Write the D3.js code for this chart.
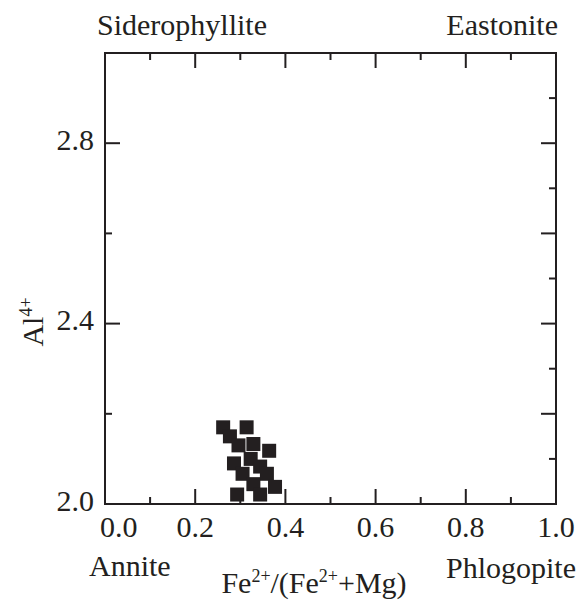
<!DOCTYPE html>
<html>
<head>
<meta charset="utf-8">
<script src="https://cdn.jsdelivr.net/npm/d3@7"></script>
<style>
  html, body { margin: 0; padding: 0; background: #fff; }
  svg { display: block; }
  text { font-family: "Liberation Serif", "Times New Roman", Times, serif; fill: #231f20; }
</style>
</head>
<body>
<svg id="chart" width="577" height="601"></svg>
<script>
// Biotite analyses: Fe2+/(Fe2++Mg) vs Al(IV)
const feRatio = [0.262, 0.314, 0.277, 0.296, 0.329, 0.364, 0.286, 0.323, 0.344, 0.305, 0.359, 0.329, 0.377, 0.293, 0.344];
const alIV    = [2.170, 2.170, 2.150, 2.130, 2.133, 2.118, 2.090, 2.100, 2.083, 2.067, 2.067, 2.044, 2.038, 2.021, 2.021];

const xTickValues = [0, 0.1, 0.2, 0.3, 0.4, 0.5, 0.6, 0.7, 0.8, 0.9, 1.0];
const xLabelValues = [0, 0.2, 0.4, 0.6, 0.8, 1.0];
const yLeftTicks = [2.0, 2.2, 2.4, 2.6, 2.8, 3.0];
const yRightTicks = [2.0, 2.1, 2.2, 2.3, 2.4, 2.5, 2.6, 2.7, 2.8, 2.9, 3.0];
const yLabelValues = [2.0, 2.4, 2.8];

// End-member names at the corners
const cornerTopLeft = "Siderophyllite";
const cornerTopRight = "Eastonite";
const cornerBottomLeft = "Annite";
const cornerBottomRight = "Phlogopite";

const ink = "#231f20";
const svg = d3.select("#chart");
const plotL = 105, plotR = 556, plotT = 53, plotB = 504;

const x = d3.scaleLinear().domain([0, 1]).range([plotL, plotR]);
const y = d3.scaleLinear().domain([2.0, 3.0]).range([plotB, plotT]);

const isEvenTenth = v => Math.round(v * 10) % 2 === 0;
const isLabelled = v => yLabelValues.some(l => Math.abs(l - v) < 1e-6);
const LONG = 15, SHORT = 7;

// Tick marks pointing inward
const g = svg.append("g");
g.selectAll("line.xb").data(xTickValues).join("line").attr("class", "xb")
  .attr("x1", d => x(d)).attr("x2", d => x(d))
  .attr("y1", plotB).attr("y2", d => plotB - (isEvenTenth(d) ? LONG : SHORT))
  .attr("stroke", ink).attr("stroke-width", 2);
g.selectAll("line.xt").data(xTickValues).join("line").attr("class", "xt")
  .attr("x1", d => x(d)).attr("x2", d => x(d))
  .attr("y1", plotT).attr("y2", d => plotT + (isEvenTenth(d) ? LONG : SHORT))
  .attr("stroke", ink).attr("stroke-width", 2);
g.selectAll("line.yl").data(yLeftTicks).join("line").attr("class", "yl")
  .attr("x1", plotL).attr("x2", d => plotL + (isLabelled(d) ? LONG : SHORT))
  .attr("y1", d => y(d)).attr("y2", d => y(d))
  .attr("stroke", ink).attr("stroke-width", 2);
g.selectAll("line.yr").data(yRightTicks).join("line").attr("class", "yr")
  .attr("x1", plotR).attr("x2", d => plotR - (isEvenTenth(d) ? LONG : SHORT))
  .attr("y1", d => y(d)).attr("y2", d => y(d))
  .attr("stroke", ink).attr("stroke-width", 2);

// Frame
svg.append("rect")
  .attr("x", plotL).attr("y", plotT)
  .attr("width", plotR - plotL).attr("height", plotB - plotT)
  .attr("fill", "none").attr("stroke", ink).attr("stroke-width", 2);

// Tick labels
const fs = 30;
svg.selectAll("text.xl").data(xLabelValues).join("text").attr("class", "xl")
  .attr("x", d => d === 0 ? x(d) - 5 : x(d))
  .attr("y", 537)
  .attr("text-anchor", d => d === 0 ? "start" : "middle")
  .attr("font-size", fs)
  .text(d => d3.format(".1f")(d));
svg.selectAll("text.yl").data(yLabelValues).join("text").attr("class", "yl")
  .attr("x", plotL - 11)
  .attr("y", d => y(d) - 4)
  .attr("dy", "0.35em")
  .attr("text-anchor", "end")
  .attr("font-size", fs)
  .text(d => d3.format(".1f")(d));

// Corner names
svg.append("text").attr("x", 97).attr("y", 35).attr("font-size", fs).text(cornerTopLeft);
svg.append("text").attr("x", 558).attr("y", 35).attr("text-anchor", "end").attr("font-size", fs).text(cornerTopRight);
svg.append("text").attr("x", 89).attr("y", 576).attr("font-size", fs).text(cornerBottomLeft);
svg.append("text").attr("x", 576).attr("y", 578).attr("text-anchor", "end").attr("font-size", fs).text(cornerBottomRight);

// Axis titles
const xt = svg.append("text").attr("x", 314).attr("y", 593).attr("text-anchor", "middle").attr("font-size", fs);
xt.append("tspan").text("Fe");
xt.append("tspan").attr("font-size", 18).attr("dy", -11).text("2+");
xt.append("tspan").attr("dy", 11).text("/(Fe");
xt.append("tspan").attr("font-size", 18).attr("dy", -11).text("2+");
xt.append("tspan").attr("dy", 11).text("+Mg)");

const yt = svg.append("text")
  .attr("transform", "translate(43,322) rotate(-90)")
  .attr("text-anchor", "middle").attr("font-size", fs);
yt.append("tspan").text("Al");
yt.append("tspan").attr("font-size", 18).attr("dy", -11).text("4+");

// Data squares
const size = 14;
svg.append("g").selectAll("rect").data(feRatio.map((f, i) => [f, alIV[i]])).join("rect")
  .attr("x", d => x(d[0]) - size / 2)
  .attr("y", d => y(d[1]) - size / 2)
  .attr("width", size).attr("height", size)
  .attr("fill", ink);
</script>
</body>
</html>
